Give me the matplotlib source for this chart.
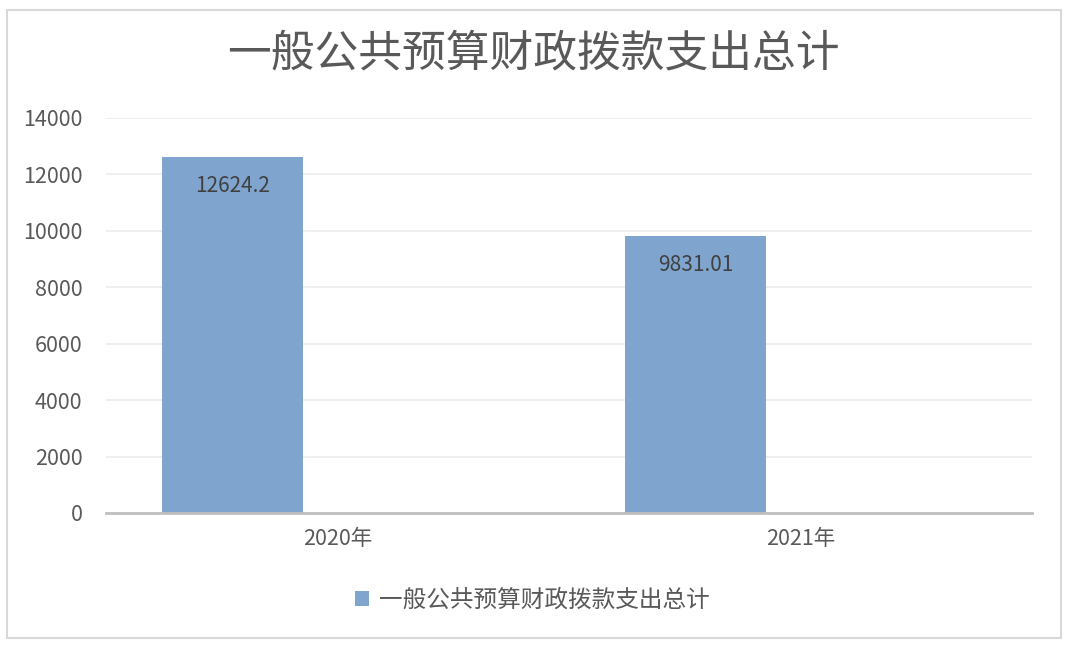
import numpy as np
import matplotlib.pyplot as plt
from matplotlib.patches import Rectangle

plt.rcParams['font.family'] = ['Noto Sans CJK SC', 'DejaVu Sans']

# data
years = ['2020年', '2021年']
values = [12624.2, 9831.01]
value_labels = ['12624.2', '9831.01']
series_name = '一般公共预算财政拨款支出总计'
title = '一般公共预算财政拨款支出总计'
yticks = [0, 2000, 4000, 6000, 8000, 10000, 12000, 14000]

bar_color = '#7fa5cf'
text_color = '#595959'

fig = plt.figure(figsize=(10.71, 6.52), dpi=100)
ax = fig.add_axes([106 / 1071, 0.2132, 926 / 1071, 0.606])

x = np.arange(len(years))
bars = ax.bar(x - 0.227, values, width=0.305, color=bar_color, label=series_name, zorder=3)

for b, lab in zip(bars, value_labels):
    ax.annotate(lab, (b.get_x() + b.get_width() / 2, b.get_height()),
                xytext=(0, -21), textcoords='offset points', ha='center', va='center',
                fontsize=15, color='#404040', zorder=4)

ax.set_xlim(-0.5, 1.5)
ax.set_ylim(0, 14000)
ax.set_xticks(x)
ax.set_xticklabels(years, fontsize=15.5, color=text_color)
ax.set_yticks(yticks)
ax.set_yticklabels([str(v) for v in yticks], fontsize=15.5, color=text_color)
ax.tick_params(axis='both', length=0)
ax.tick_params(axis='y', pad=17)
ax.tick_params(axis='x', pad=11)

ax.grid(axis='y', color='#ececec', linewidth=1.2, zorder=0)
for s in ['top', 'right', 'left']:
    ax.spines[s].set_visible(False)
ax.spines['bottom'].set_color('#bfbfbf')
ax.spines['bottom'].set_linewidth(2)
ax.spines['bottom'].set_zorder(5)

fig.text(0.498, 0.918, title, ha='center', va='center', fontsize=31.5,
         fontweight='light', color=text_color)

fig.legend(handles=[bars], labels=[series_name], loc='center', bbox_to_anchor=(0.497, 0.08),
           frameon=False, fontsize=17, handlelength=0.6, handleheight=0.6, handletextpad=0.45,
           labelcolor=text_color)

# outer chart border
fig.patches.append(Rectangle((7 / 1071, 1 - 638 / 652), 1054 / 1071, 628 / 652,
                             transform=fig.transFigure, fill=False, edgecolor='#d9d9d9',
                             linewidth=1.5))

plt.savefig('out.png', dpi=100)
